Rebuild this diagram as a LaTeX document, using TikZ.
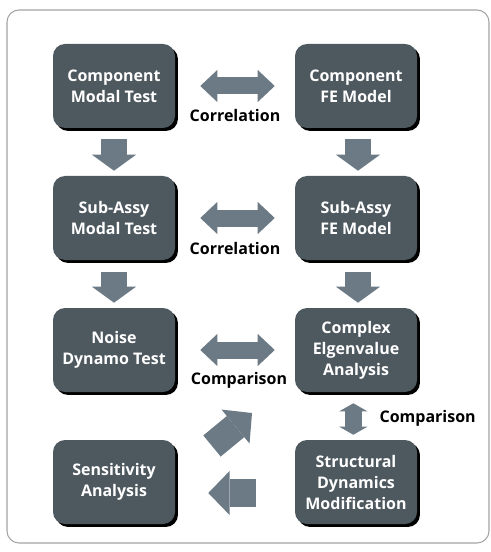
\documentclass[tikz,border=0pt]{standalone}
\usepackage{fontspec}
\setmainfont{Open Sans}
\usepackage{tikz}
\usetikzlibrary{arrows.meta, positioning, calc, shadows}
\definecolor{boxGray}{HTML}{4E585F}
\definecolor{arrowGray}{HTML}{6B7A85}
\definecolor{frameGray}{HTML}{A3A3A3}
\tikzstyle{stage} = [rectangle, rounded corners=9pt, fill=boxGray, text=white, align=center,
    font=\bfseries\fontsize{12}{15.75}\selectfont, minimum width=91.5pt, minimum height=63pt,
    drop shadow={shadow xshift=2.2pt, shadow yshift=-2.2pt, fill=black, opacity=1}]
\tikzstyle{flowDown} = [arrowGray, line width=19.5pt, -{Triangle[length=12pt, width=33pt, line width=0pt]}]
\tikzstyle{linkBoth} = [arrowGray, line width=12.75pt, {Triangle[length=12.75pt, width=24pt, line width=0pt]}-{Triangle[length=12.75pt, width=24pt, line width=0pt]}]
\tikzstyle{linkUpDown} = [arrowGray, line width=12.75pt, {Triangle[length=6pt, width=21pt, line width=0pt]}-{Triangle[length=6pt, width=21pt, line width=0pt]}]
\tikzstyle{feedBack} = [arrowGray, line width=20.5pt, -{Triangle[length=16pt, width=33pt, line width=0pt]}]
\tikzstyle{tag} = [font=\bfseries\fontsize{12}{15}\selectfont, text=black]

\begin{document}
\begin{tikzpicture}[x=0.75pt, y=-0.75pt]
    \useasboundingbox (0,0) rectangle (490,552);
    \draw[frameGray, line width=0.8pt, rounded corners=9pt] (7,10) rectangle (489,543);

    % Test side
    \node[stage] (cmt) at (114,86) {Component\\Modal Test};
    \node[stage] (samt) at (114,218) {Sub-Assy\\Modal Test};
    \node[stage] (ndt) at (114,350) {Noise\\Dynamo Test};
    \node[stage] (sa) at (114,482) {Sensitivity\\Analysis};

    % Model side
    \node[stage] (cfe) at (356,86) {Component\\FE Model};
    \node[stage] (safe) at (356,218) {Sub-Assy\\FE Model};
    \node[stage] (cea) at (356,350) {Complex\\Elgenvalue\\Analysis};
    \node[stage] (sdm) at (356,482) {Structural\\Dynamics\\Modification};

    % Flow downwards
    \draw[flowDown, shorten <=8.25pt, shorten >=3.75pt] (cmt) -- (samt);
    \draw[flowDown, shorten <=9pt, shorten >=3.75pt] (samt) -- (ndt);
    \draw[flowDown, shorten <=8.25pt, shorten >=3.75pt] ([xshift=1.5pt]cfe.south) -- ([xshift=1.5pt]safe.north);
    \draw[flowDown, shorten <=9pt, shorten >=3.75pt] ([xshift=1.5pt]safe.south) -- ([xshift=1.5pt]cea.north);

    % Links between test and model
    \draw[linkBoth, shorten <=18.75pt, shorten >=15pt] (cmt) -- (cfe) node[tag, midway, yshift=-22.5pt]{Correlation};
    \draw[linkBoth, shorten <=18.75pt, shorten >=15pt] (samt) -- (safe) node[tag, midway, yshift=-22.5pt]{Correlation};
    \draw[linkBoth, shorten <=18.75pt, shorten >=15pt] (ndt) -- (cea) node[tag, midway, xshift=3pt, yshift=-22.5pt]{Comparison};
    \draw[linkUpDown, shorten <=8.25pt, shorten >=3.75pt] ([xshift=-2pt]cea.south) -- ([xshift=-2pt]sdm.north) node[tag, midway, anchor=west, xshift=10pt, yshift=-2pt]{Comparison};

    % Feedback
    \draw[feedBack, shorten <=29.25pt, shorten >=24.75pt] ([yshift=-8.25pt]sdm.west) -- ([yshift=-8.25pt]sa.east);
    \coordinate (fbTail) at (212,446);
    \coordinate (fbTip) at (252,413);
    \draw[feedBack] (fbTail) -- (fbTip);
\end{tikzpicture}
\end{document}
